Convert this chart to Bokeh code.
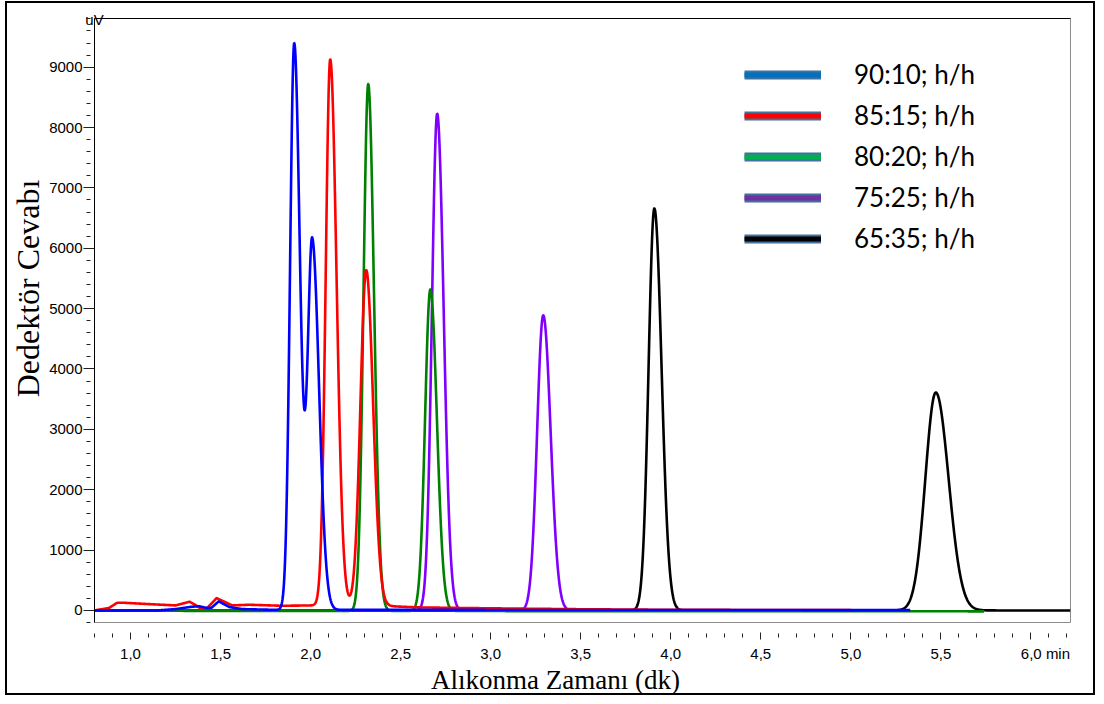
import numpy as np
from bokeh.plotting import figure
from bokeh.models import (Range1d, FixedTicker, CustomJSTickFormatter, Legend,
                          LegendItem, LinearAxis)
from bokeh.embed import file_html
from bokeh.resources import INLINE

# ---- chromatogram data -------------------------------------------------
# Mobile phase ratios (legend labels)
series_names = ["90:10; h/h", "85:15; h/h", "80:20; h/h", "75:25; h/h", "65:35; h/h"]

# Peak tables: retention time (min), height (uV), left / right peak sigma (min)
blue_rt = [1.909, 2.009]
blue_h = [9390, 6100]
blue_sl = [0.023, 0.025]
blue_sr = [0.032, 0.038]
blue_base_t = [0.80, 1.15, 1.25, 1.34, 1.38, 1.425, 1.45, 1.49, 1.55, 1.62, 1.80, 5.33]
blue_base_y = [0, 0, 22, 61, 70, 40, 45, 150, 55, 22, 10, 5]
blue_end = 5.33

red_rt = [2.109, 2.309]
red_h = [9050, 5560]
red_sl = [0.025, 0.032]
red_sr = [0.035, 0.038]
red_base_t = [0.80, 0.88, 0.926, 0.963, 1.10, 1.25, 1.328, 1.361, 1.389, 1.426,
              1.478, 1.51, 1.565, 1.658, 1.843, 2.01, 2.40, 2.60, 3.00, 3.50, 4.00, 5.00]
red_base_y = [0, 40, 127, 127, 105, 83, 144, 90, 28, 40,
              204, 160, 83, 94, 77, 83, 75, 50, 35, 20, 10, 5]
red_end = 5.00

green_rt = [2.320, 2.665]
green_h = [8730, 5330]
green_sl = [0.026, 0.029]
green_sr = [0.032, 0.036]
green_base_t = [0.80, 1.40, 5.74]
green_base_y = [0, -8, -15]
green_end = 5.74

purple_rt = [2.703, 3.292]
purple_h = [8230, 4890]
purple_sl = [0.029, 0.034]
purple_sr = [0.036, 0.041]
purple_base_t = [0.80, 5.20]
purple_base_y = [0, 0]
purple_end = 5.20

black_rt = [3.909, 5.472]
black_h = [6660, 3610]
black_sl = [0.032, 0.058]
black_sr = [0.040, 0.071]
black_base_t = [0.80, 6.22]
black_base_y = [0, 0]
black_end = 6.22

line_colors = ["#0000ff", "#ff0000", "#008000", "#8000ff", "#000000"]
legend_colors = ["#0070c0", "#ff0000", "#00b050", "#7030a0", "#000000"]

# axis ticks
x_major = [1.0, 1.5, 2.0, 2.5, 3.0, 3.5, 4.0, 4.5, 5.0, 5.5, 6.0]
y_major = [0, 1000, 2000, 3000, 4000, 5000, 6000, 7000, 8000, 9000]

NBSP = "\u00a0"


def trace(end, rts, hs, sls, srs, base_t, base_y):
    t = np.arange(0.8, end + 1e-9, 0.002)
    y = np.interp(t, base_t, base_y)
    for rt, h, sl, sr in zip(rts, hs, sls, srs):
        s = np.where(t < rt, sl, sr)
        y = y + h * np.exp(-0.5 * ((t - rt) / s) ** 2)
    return t, y


traces = {
    "blue": trace(blue_end, blue_rt, blue_h, blue_sl, blue_sr, blue_base_t, blue_base_y),
    "red": trace(red_end, red_rt, red_h, red_sl, red_sr, red_base_t, red_base_y),
    "green": trace(green_end, green_rt, green_h, green_sl, green_sr, green_base_t, green_base_y),
    "purple": trace(purple_end, purple_rt, purple_h, purple_sl, purple_sr, purple_base_t, purple_base_y),
    "black": trace(black_end, black_rt, black_h, black_sl, black_sr, black_base_t, black_base_y),
}

# ---- figure --------------------------------------------------------------
p = figure(width=1090, height=694,
           x_range=Range1d(0.8, 6.22), y_range=Range1d(-200, 9807),
           output_backend="svg", toolbar_location=None,
           min_border_left=86, min_border_right=27,
           min_border_top=15, min_border_bottom=75)
p.styles = {"border": "2px solid black", "margin-left": "5px", "margin-top": "1px"}
p.grid.visible = False
p.outline_line_color = "#8c8c8c"
p.outline_line_width = 1
p.background_fill_color = "white"
p.border_fill_color = "white"

# traces, drawn back to front
order = [("black", 4), ("purple", 3), ("green", 2), ("red", 1), ("blue", 0)]
for key, idx in order:
    t, y = traces[key]
    p.line(t, y, line_color=line_colors[idx], line_width=2.6, line_join="round")

# x axis: ticks sit in a strip below the plot frame
xa = p.xaxis[0]
xa.ticker = FixedTicker(ticks=x_major,
                        minor_ticks=[round(0.8 + 0.1 * i, 1) for i in range(55)])
xa.formatter = CustomJSTickFormatter(
    args=dict(pad=NBSP * 7),
    code="const s = tick.toFixed(1).replace('.', ',');"
         "return Math.abs(tick - 6) < 1e-6 ? pad + s + ' min' : s;")
xa.axis_line_color = None
xa.major_tick_in = -10
xa.major_tick_out = 17
xa.minor_tick_in = -11
xa.minor_tick_out = 15
xa.major_tick_line_color = "#222222"
xa.minor_tick_line_color = "#222222"
xa.major_label_standoff = 5
xa.major_label_text_font = "Liberation Sans"
xa.major_label_text_font_size = "15px"
xa.major_label_text_color = "black"
xa.axis_label = "Alıkonma Zamanı (dk)" + NBSP * 8
xa.axis_label_text_font = "Liberation Serif"
xa.axis_label_text_font_size = "27px"
xa.axis_label_text_font_style = "normal"
xa.axis_label_text_color = "black"
xa.axis_label_standoff = 0

ya = p.yaxis[0]
ya.ticker = FixedTicker(ticks=y_major, minor_ticks=list(range(-200, 9801, 200)))
ya.axis_line_color = "black"
ya.major_tick_in = 0
ya.major_tick_out = 11
ya.minor_tick_in = -4
ya.minor_tick_out = 8
ya.major_tick_line_color = "#222222"
ya.minor_tick_line_color = "#222222"
ya.major_label_standoff = 1
ya.major_label_text_font = "Liberation Sans"
ya.major_label_text_font_size = "15px"
ya.major_label_text_color = "black"
ya.axis_label = NBSP * 8 + "Dedektör Cevabı"
ya.axis_label_text_font = "Liberation Serif"
ya.axis_label_text_font_size = "32px"
ya.axis_label_text_font_style = "normal"
ya.axis_label_text_color = "black"
ya.axis_label_standoff = 0

# black top edge of the frame, carrying the signal unit at its left end
top_edge = LinearAxis(ticker=FixedTicker(ticks=[0.8]),
                      formatter=CustomJSTickFormatter(code="return 'uV';"),
                      axis_line_color="black",
                      major_tick_out=0, major_tick_in=0, minor_tick_out=0, minor_tick_in=0,
                      major_label_standoff=-9,
                      major_label_text_font="Liberation Sans",
                      major_label_text_font_size="15px",
                      major_label_text_color="black")
p.add_layout(top_edge, "above")

# legend: bordered colour bars (sample renderers hold points outside the view)
items = []
for name, col in zip(series_names, legend_colors):
    edge = p.line([-10, -9], [0, 0], line_color="#41719c", line_width=9)
    bar = p.line([-10, -9], [0, 0], line_color=col, line_width=5)
    items.append(LegendItem(label=name, renderers=[edge, bar]))
legend = Legend(items=items, location=(650, 368),
                glyph_width=77, glyph_height=29, label_height=29, spacing=9,
                label_standoff=33, padding=0, margin=0,
                border_line_color=None, background_fill_alpha=0,
                label_text_font="Lato", label_text_font_size="26px",
                label_text_color="black")
p.add_layout(legend)

open("out.html", "w").write(file_html(p, INLINE))
